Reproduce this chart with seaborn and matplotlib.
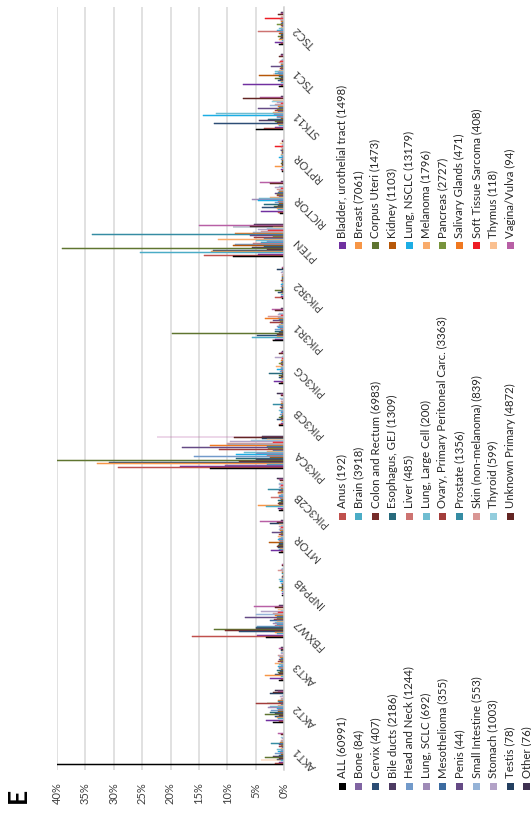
import matplotlib
matplotlib.use("Agg")
import matplotlib.pyplot as plt
from matplotlib.patches import Rectangle
import numpy as np
import pandas as pd
import seaborn as sns

plt.rcParams['font.family'] = ['Lato', 'DejaVu Sans']

genes = ["AKT1", "AKT2", "AKT3", "FBXW7", "INPP4B", "MTOR", "PIK3C2B", "PIK3CA",
         "PIK3CB", "PIK3CG", "PIK3R1", "PIK3R2", "PTEN", "RICTOR", "RPTOR",
         "STK11", "TSC1", "TSC2"]

series = ["ALL (60991)", "Anus (192)", "Bladder, urothelial tract (1498)", "Bone (84)",
          "Brain (3918)", "Breast (7061)", "Cervix (407)", "Colon and Rectum (6983)",
          "Corpus Uteri (1473)", "Bile ducts (2186)", "Esophagus, GEJ (1309)",
          "Kidney (1103)", "Head and Neck (1244)", "Liver (485)", "Lung, NSCLC (13179)",
          "Lung, SCLC (692)", "Lung, Large Cell (200)", "Melanoma (1796)",
          "Mesothelioma (355)", "Ovary, Primary Peritoneal Carc. (3363)",
          "Pancreas (2727)", "Penis (44)", "Prostate (1356)", "Salivary Glands (471)",
          "Small Intestine (553)", "Skin (non-melanoma) (839)",
          "Soft Tissue Sarcoma (408)", "Stomach (1003)", "Thyroid (599)",
          "Thymus (118)", "Testis (78)", "Unknown Primary (4872)",
          "Vagina/Vulva (94)", "Other (76)"]

colors = ["#000000", "#C0504D", "#7030A0", "#8064A2", "#4BACC6", "#F79646",
          "#2C4D75", "#772C2A", "#5F7530", "#4D3B62", "#276A7C", "#B65708",
          "#729ACA", "#CD7371", "#1CADE4", "#9F8AB7", "#6FBDD1", "#F9AB6B",
          "#3C6BA0", "#A33D3B", "#77933C", "#654A85", "#358CA3", "#F07820",
          "#95B3D7", "#D99694", "#EE1C24", "#B3A2C7", "#93CDDD", "#FAC090",
          "#243F60", "#632523", "#B85FA5", "#3F3151"]

# percentage of samples altered, one list per gene (series order as above)
akt1 = [40, 1.6, 0.8, 0.0, 0.6, 4.0, 1.2, 0.8, 3.4, 2.0, 0.9, 0.5, 1.6, 0.7, 1.0, 0.6, 1.3,
        0.5, 0.4, 0.8, 0.6, 0.9, 2.3, 0.7, 0.5, 0.6, 0.0, 0.4, 0.5, 0.0, 0.0, 0.6, 1.0, 0.0]
akt2 = [2.0, 0.9, 3.2, 0.0, 1.0, 1.2, 1.5, 0.8, 3.4, 1.5, 2.5, 1.0, 2.3, 1.0, 1.2, 2.8, 2.5,
        1.0, 0.5, 4.9, 3.0, 0.8, 1.0, 1.1, 0.6, 0.5, 0.0, 0.7, 0.4, 0.0, 2.5, 1.9, 1.0, 1.5]
akt3 = [0.8, 0.6, 2.5, 0.0, 0.5, 3.4, 1.6, 0.9, 1.0, 0.7, 1.2, 0.6, 0.9, 0.8, 1.0, 0.5, 0.8,
        1.5, 0.6, 1.0, 0.7, 0.8, 0.6, 0.7, 0.8, 1.0, 0.0, 0.6, 0.5, 0.4, 0.5, 0.6, 0.9, 0.5]
fbxw7 = [3.1, 16.2, 4.8, 0.0, 1.2, 1.5, 8.0, 10.4, 12.3, 5.0, 5.0, 0.8, 4.8, 1.5, 1.2, 2.0,
         1.5, 1.2, 2.5, 1.8, 1.2, 6.9, 1.2, 1.5, 5.0, 2.0, 1.0, 4.0, 0.6, 1.0, 0.0, 1.5, 5.3, 0.8]
inpp4b = [0.3, 0.0, 0.4, 0.0, 0.3, 0.5, 0.3, 0.4, 0.8, 0.3, 0.4, 0.3, 0.6, 0.2, 0.7, 0.5, 0.8,
          0.4, 0.3, 0.4, 0.2, 0.0, 0.3, 0.4, 0.3, 1.1, 0.0, 0.6, 0.3, 0.0, 0.0, 0.3, 0.4, 0.0]
mtor = [0.9, 0.6, 2.3, 0.0, 0.8, 0.7, 1.0, 1.2, 1.0, 0.8, 0.9, 2.6, 0.7, 0.8, 1.0, 0.9, 0.6,
        1.0, 0.5, 0.9, 0.6, 2.2, 0.5, 0.7, 0.8, 0.7, 0.5, 0.9, 0.6, 0.8, 2.5, 1.2, 4.2, 0.5]
pik3c2b = [0.8, 0.5, 1.0, 0.0, 3.2, 4.5, 0.8, 1.0, 0.8, 0.6, 1.0, 0.5, 0.7, 2.3, 0.8, 0.9,
           0.6, 1.0, 0.5, 1.0, 0.6, 0.8, 2.8, 0.6, 0.8, 0.7, 0.5, 0.8, 0.9, 0.6, 0.0, 0.7, 0.8, 1.3]
pik3ca = [13.0, 29.2, 18.4, 10.4, 3.0, 33.0, 30.8, 8.0, 40.0, 5.0, 8.5, 2.5, 15.9, 3.0, 8.4,
          5.0, 7.0, 3.0, 2.0, 11.4, 2.8, 18.0, 3.0, 13.0, 10.0, 10.0, 2.0, 9.6, 5.8, 3.0, 3.9,
          8.8, 22.4, 3.9]
pik3cb = [0.8, 0.9, 0.5, 0.0, 0.4, 0.6, 1.2, 0.5, 0.8, 0.3, 0.5, 0.4, 0.7, 0.3, 0.6, 0.5, 0.8,
          0.4, 0.5, 0.7, 0.4, 0.6, 2.0, 0.5, 0.4, 0.5, 0.0, 0.6, 0.7, 0.0, 0.0, 0.5, 0.6, 1.3]
pik3cg = [0.8, 0.5, 1.8, 0.0, 0.4, 0.6, 0.8, 0.6, 0.9, 0.4, 2.6, 0.3, 0.7, 0.5, 1.3, 0.6, 0.5,
          1.4, 0.4, 0.6, 0.8, 0.5, 0.4, 0.6, 0.5, 0.4, 0.3, 1.6, 0.4, 0.0, 0.0, 0.8, 0.5, 0.4]
pik3r1 = [1.9, 2.1, 1.5, 0.0, 5.6, 1.2, 4.7, 1.3, 19.8, 0.8, 1.6, 0.6, 1.5, 0.7, 1.0, 1.2, 0.8,
          0.9, 0.6, 2.4, 0.7, 2.0, 0.8, 3.4, 1.0, 2.8, 0.5, 1.1, 0.9, 0.0, 0.0, 1.5, 2.1, 0.6]
pik3r2 = [0.4, 1.5, 0.6, 0.0, 0.5, 0.4, 1.1, 0.5, 1.5, 0.3, 0.4, 0.3, 0.6, 0.3, 0.5, 0.4, 0.3,
          0.4, 0.3, 0.5, 0.3, 0.4, 0.3, 0.4, 0.3, 0.4, 0.0, 0.5, 0.3, 0.0, 1.2, 0.4, 0.3, 0.0]
pten = [9.0, 14.1, 4.5, 0.0, 25.4, 12.8, 12.5, 3.0, 39.2, 5.7, 3.5, 9.0, 8.6, 5.4, 4.0, 3.0,
        5.0, 11.6, 3.5, 5.3, 2.0, 6.0, 33.8, 8.6, 5.4, 4.0, 2.8, 4.5, 3.0, 2.0, 9.0, 6.0, 15.0, 5.3]
rictor = [0.7, 1.0, 4.0, 0.0, 1.0, 1.2, 3.9, 1.5, 1.8, 1.0, 3.5, 0.8, 1.5, 1.0, 4.5, 5.6, 4.4,
          2.4, 0.8, 1.3, 1.2, 1.5, 1.0, 0.9, 0.8, 1.2, 0.5, 1.5, 0.8, 0.0, 0.0, 2.4, 4.2, 0.5]
rptor = [0.4, 0.3, 0.5, 0.0, 0.4, 1.6, 0.3, 0.4, 0.6, 0.3, 0.4, 0.3, 0.5, 0.3, 0.8, 0.4, 0.6,
         0.5, 0.3, 0.4, 0.3, 0.5, 0.7, 0.4, 0.3, 0.5, 1.6, 0.3, 0.4, 0.7, 0.0, 0.3, 0.4, 0.0]
stk11 = [4.9, 3.6, 1.5, 0.0, 0.8, 1.0, 12.3, 1.2, 1.5, 4.4, 2.8, 0.6, 1.2, 1.3, 14.2, 1.8,
         12.0, 1.9, 1.0, 1.5, 1.2, 4.5, 0.8, 1.0, 2.5, 1.5, 0.5, 1.2, 2.2, 2.0, 0.0, 7.3, 4.2, 0.6]
tsc1 = [0.8, 0.5, 7.2, 0.0, 0.5, 0.6, 1.0, 0.7, 1.5, 0.6, 0.8, 4.4, 0.9, 2.0, 1.5, 1.0, 1.5,
        0.8, 0.5, 0.7, 0.6, 2.3, 0.5, 0.6, 0.5, 0.8, 0.7, 0.5, 0.4, 0.0, 0.0, 0.9, 0.6, 0.5]
tsc2 = [0.8, 0.5, 1.5, 0.0, 0.4, 0.8, 0.7, 0.6, 1.0, 0.5, 0.6, 0.8, 0.7, 4.5, 1.2, 0.6, 0.8,
        0.5, 0.4, 0.6, 1.3, 0.5, 0.4, 0.6, 0.5, 0.7, 3.4, 0.5, 0.4, 0.6, 0.0, 1.0, 0.6, 0.5]

gene_values = [akt1, akt2, akt3, fbxw7, inpp4b, mtor, pik3c2b, pik3ca, pik3cb, pik3cg,
               pik3r1, pik3r2, pten, rictor, rptor, stk11, tsc1, tsc2]

x_ticks = [0, 5, 10, 15, 20, 25, 30, 35, 40]
x_ticklabels = [f"{t}%" for t in x_ticks]
panel_label = "E"

rows = [(g, s, v) for g, vals in zip(genes, gene_values) for s, v in zip(series, vals)]
df = pd.DataFrame(rows, columns=["gene", "series", "value"])

W, H = 531, 813
fig = plt.figure(figsize=(W / 100, H / 100), dpi=100)
fig.patch.set_facecolor("white")


def fx(px):
    return px / W


def fy(py):
    return 1 - py / H


ax = fig.add_axes([fx(57), fy(770), (284 - 57) / W, (770 - 7) / H])
sns.barplot(data=df, x="value", y="gene", hue="series", order=genes[::-1],
            hue_order=series[::-1], palette=dict(zip(series, colors)), orient="h",
            width=0.78, linewidth=0, saturation=1, errorbar=None, legend=False, ax=ax)

# thicken each thin bar slightly (Excel-like solid look)
for p in ax.patches:
    p.set_edgecolor(p.get_facecolor())
    p.set_linewidth(0.35)

ax.set_xlim(40, 0)
ax.set_xlabel("")
ax.set_ylabel("")
ax.set_xticks(x_ticks)
ax.set_xticklabels(x_ticklabels, rotation=90, fontsize=8, color="#404040")
ax.xaxis.grid(True, color="#D9D9D9", linewidth=1.1)
ax.yaxis.grid(False)
ax.set_axisbelow(True)
ax.tick_params(axis="x", length=0, pad=9)
for side in ["left", "top", "bottom"]:
    ax.spines[side].set_visible(False)
ax.spines["right"].set_color("#D0D0D0")
ax.spines["right"].set_linewidth(1.1)

ax.yaxis.tick_right()
ax.set_yticks(range(len(genes)))
ax.set_yticklabels(genes[::-1], rotation=135, ha="right", va="center",
                   rotation_mode="anchor", fontsize=8, color="#404040")
ax.tick_params(axis="y", length=0, pad=8)

# legend: three rotated columns
marker_y = [786, 516, 246]
for col in range(3):
    labels = series[col::3]
    cols = colors[col::3]
    for i, (lab, c) in enumerate(zip(labels, cols)):
        xc = 342 + 16.8 * i
        fig.add_artist(Rectangle((fx(xc - 3.5), fy(marker_y[col] + 3.5)), 7 / W, 7 / H,
                                 transform=fig.transFigure, facecolor=c, edgecolor="none"))
        fig.text(fx(xc), fy(marker_y[col] - 8), lab, rotation=90, rotation_mode="anchor",
                 ha="left", va="center", fontsize=8.2, color="#262626")

fig.text(fx(18), fy(795), panel_label, rotation=90, ha="center", va="center",
         fontsize=19, fontweight="bold", color="black")

fig.savefig("out.png", dpi=100, facecolor="white")
